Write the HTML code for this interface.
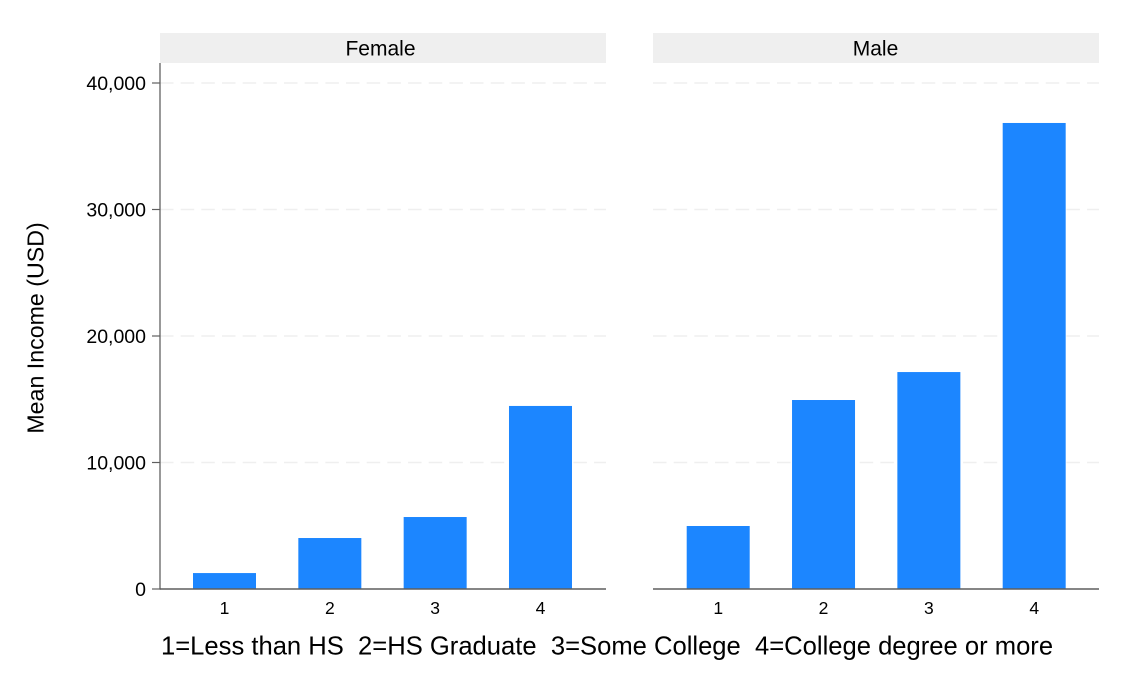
<!DOCTYPE html>
<html lang="en">
<head>
<meta charset="utf-8">
<title>Mean Income by Education and Gender</title>
<style>
  html, body { margin: 0; padding: 0; background: #fff; }
  svg { display: block; font-family: "Liberation Sans", Arial, sans-serif; }
  .keep-spaces { white-space: pre; }
</style>
</head>
<body>
<svg id="chart" width="1147" height="688" viewBox="0 0 1147 688" xmlns="http://www.w3.org/2000/svg">
  <text x="0" y="0" transform="translate(43.5,328) rotate(-90)" text-anchor="middle" font-size="23.2" fill="#000">Mean Income (USD)</text>
  <text class="keep-spaces" x="161" y="654.5" text-anchor="start" font-size="25.6" fill="#000">1=Less than HS  2=HS Graduate  3=Some College  4=College degree or more</text>
</svg>
<script>
const categories = ['1', '2', '3', '4'];
const panelNames = ['Female', 'Male'];
const femaleValues = [1260, 4030, 5690, 14470];
const maleValues = [4980, 14940, 17150, 36840];
const yTicks = [0, 10000, 20000, 30000, 40000];
const yTickLabels = ['0', '10,000', '20,000', '30,000', '40,000'];

const NS = 'http://www.w3.org/2000/svg';
const svg = document.getElementById('chart');
const panelLefts = [160, 653];
const firstBarOffsets = [64.5, 65.2];
const stripLabelCenters = [380.5, 875.5];
const panelWidth = 446;
const plotTop = 63;
const baseY = 589;
const pxPerUnit = 506 / 40000;
const step = 105.33;
const barWidth = 63;

function yScale(v) { return baseY - v * pxPerUnit; }
function xScale(p, i) { return panelLefts[p] + firstBarOffsets[p] + i * step; }
function make(tag, attrs, text) {
  const el = document.createElementNS(NS, tag);
  for (const k in attrs) el.setAttribute(k, attrs[k]);
  if (text !== undefined) el.textContent = text;
  svg.appendChild(el);
  return el;
}

const seriesByPanel = [femaleValues, maleValues];

panelNames.forEach(function (name, p) {
  const left = panelLefts[p];
  const key = name.toLowerCase();

  const strip = make('rect', { x: left, y: 33, width: panelWidth, height: 30, fill: '#efefef' });
  
  

  const stripLabel = make('text', { x: stripLabelCenters[p], y: 55.5, 'text-anchor': 'middle', 'font-size': 21, fill: '#000' }, name);
  
  

  yTicks.forEach(function (t) {
    if (t === 0) return;
    const grid = make('line', { x1: left, x2: left + panelWidth, y1: yScale(t), y2: yScale(t), stroke: '#efefef', 'stroke-width': 1.6, 'stroke-dasharray': '13.5 7.17' });
    
    
  });

  seriesByPanel[p].forEach(function (v, i) {
    const bar = make('rect', { x: xScale(p, i) - barWidth / 2, y: yScale(v), width: barWidth, height: baseY - yScale(v), fill: '#1c86ff' });
    
    

    const tick = make('text', { x: xScale(p, i), y: 614, 'text-anchor': 'middle', 'font-size': 17.5, fill: '#000' }, categories[i]);
    
    
  });

  const axis = make('line', { x1: left, x2: left + panelWidth, y1: baseY, y2: baseY, stroke: '#5f5f5f', 'stroke-width': 1.4 });
  
  
});

const yAxis = make('line', { x1: 160, x2: 160, y1: plotTop, y2: baseY + 0.6, stroke: '#555', 'stroke-width': 1.2 });



yTicks.forEach(function (t, i) {
  const mark = make('line', { x1: 152, x2: 160, y1: yScale(t), y2: yScale(t), stroke: '#5f5f5f', 'stroke-width': 1.2 });
  
  

  const label = make('text', { x: 146, y: yScale(t) + 7, 'text-anchor': 'end', 'font-size': 19.5, fill: '#000' }, yTickLabels[i]);
  
  
});
</script>
</body>
</html>
